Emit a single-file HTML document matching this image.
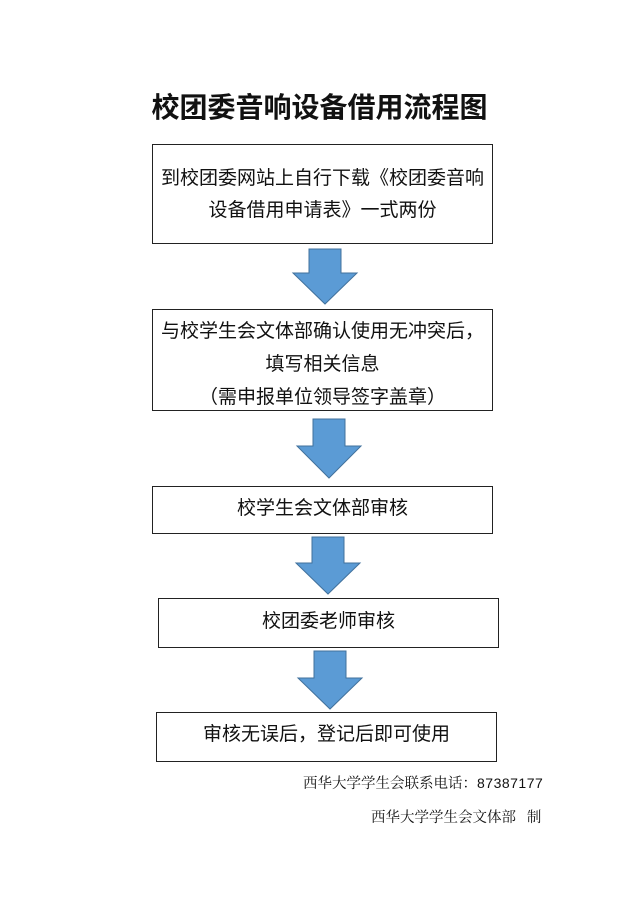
<!DOCTYPE html>
<html><head><meta charset="utf-8"><style>
body{margin:0;width:639px;height:905px;background:#fff;position:relative;font-family:"Liberation Sans","Noto Sans CJK SC",sans-serif;color:#111}
.t{position:absolute;left:0;width:639px;text-align:center;top:86px;font-size:28px;font-weight:bold}
.b{position:absolute;border:1.5px solid #222;box-sizing:border-box;text-align:center;font-size:19px;white-space:nowrap}
.f{position:absolute;font-family:"Liberation Serif","Noto Serif CJK SC",serif;font-size:14.5px}
svg{position:absolute;left:0;top:0}
</style></head><body>
<div class="t">校团委音响设备借用流程图</div>
<div class="b" style="left:152px;top:144px;width:341px;height:100px;padding-top:18px;line-height:32px">到校团委网站上自行下载《校团委音响<br>设备借用申请表》一式两份</div>
<div class="b" style="left:152px;top:309px;width:341px;height:102px;padding-top:5px;line-height:33px">与校学生会文体部确认使用无冲突后，<br>填写相关信息<br>（需申报单位领导签字盖章）</div>
<div class="b" style="left:152px;top:486px;width:341px;height:48px;line-height:44px">校学生会文体部审核</div>
<div class="b" style="left:158px;top:598px;width:341px;height:50px;line-height:45px">校团委老师审核</div>
<div class="b" style="left:156px;top:712px;width:341px;height:50px;line-height:44px">审核无误后，登记后即可使用</div>
<div class="f" style="left:303px;top:772px">西华大学学生会联系电话：<span style="font-family:'Liberation Sans',sans-serif;font-size:14px;letter-spacing:0.5px">87387177</span></div>
<div class="f" style="left:371px;top:806px">西华大学学生会文体部&nbsp;&nbsp;&nbsp;制</div>
<svg width="639" height="905">
<g fill="#5b9bd5" stroke="#41719c" stroke-width="1">
<polygon points="309,249 341,249 341,273 357,273 325,304 293,273 309,273"/>
<polygon points="313,419 345,419 345,446 361,446 329,478 297,446 313,446"/>
<polygon points="312,537 344,537 344,563 360,563 328,594 296,563 312,563"/>
<polygon points="314,651 346,651 346,678 362,678 330,709 298,678 314,678"/>
</g></svg>
</body></html>
